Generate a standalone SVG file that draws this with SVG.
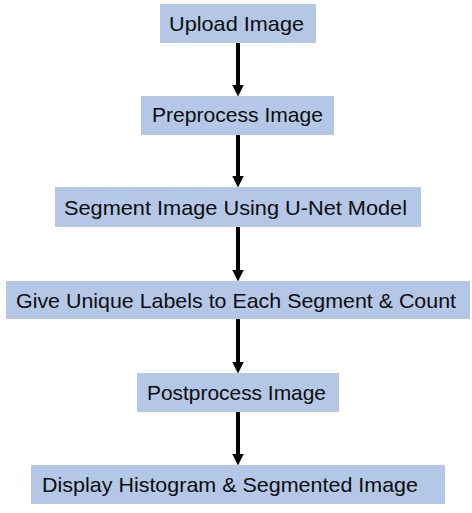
<svg xmlns="http://www.w3.org/2000/svg" width="472" height="513" viewBox="0 0 472 513">
<defs>
<style>
.box{fill:#b4c7e7;}
.lbl{font-family:"Liberation Sans",Arial,sans-serif;font-size:21px;fill:#0d0d0d;}
.conn{stroke:#000;stroke-width:4;fill:none;}
</style>
<marker id="ah" viewBox="0 0 12 12" refX="0.5" refY="6" markerWidth="12" markerHeight="12" markerUnits="userSpaceOnUse" orient="auto">
<path d="M0,0 L12,6 L0,12 z" fill="#000"/>
</marker>
</defs>
<rect width="472" height="513" fill="#fff"/>
<g id="connectors">
<line class="conn" x1="238" y1="43" x2="238" y2="85" marker-end="url(#ah)"/>
<line class="conn" x1="238" y1="135" x2="238" y2="176" marker-end="url(#ah)"/>
<line class="conn" x1="238" y1="227" x2="238" y2="270" marker-end="url(#ah)"/>
<line class="conn" x1="238" y1="319" x2="238" y2="362" marker-end="url(#ah)"/>
<line class="conn" x1="238" y1="412" x2="238" y2="454" marker-end="url(#ah)"/>
</g>
<g id="node1">
<rect class="box" x="160" y="4" width="156" height="39"/>
<text class="lbl" x="169" y="31" textLength="135" lengthAdjust="spacingAndGlyphs">Upload Image</text>
</g>
<g id="node2">
<rect class="box" x="141" y="96" width="193" height="39"/>
<text class="lbl" x="152" y="122" textLength="171" lengthAdjust="spacingAndGlyphs">Preprocess Image</text>
</g>
<g id="node3">
<rect class="box" x="55" y="187" width="366" height="40"/>
<text class="lbl" x="64" y="215" textLength="343" lengthAdjust="spacingAndGlyphs">Segment Image Using U-Net Model</text>
</g>
<g id="node4">
<rect class="box" x="6" y="281" width="464" height="38"/>
<text class="lbl" x="16" y="308" textLength="440" lengthAdjust="spacingAndGlyphs">Give Unique Labels to Each Segment &amp; Count</text>
</g>
<g id="node5">
<rect class="box" x="137" y="373" width="202" height="39"/>
<text class="lbl" x="147" y="400" textLength="179" lengthAdjust="spacingAndGlyphs">Postprocess Image</text>
</g>
<g id="node6">
<rect class="box" x="31" y="465" width="414" height="39"/>
<text class="lbl" x="42" y="492" textLength="376" lengthAdjust="spacingAndGlyphs">Display Histogram &amp; Segmented Image</text>
</g>
</svg>
